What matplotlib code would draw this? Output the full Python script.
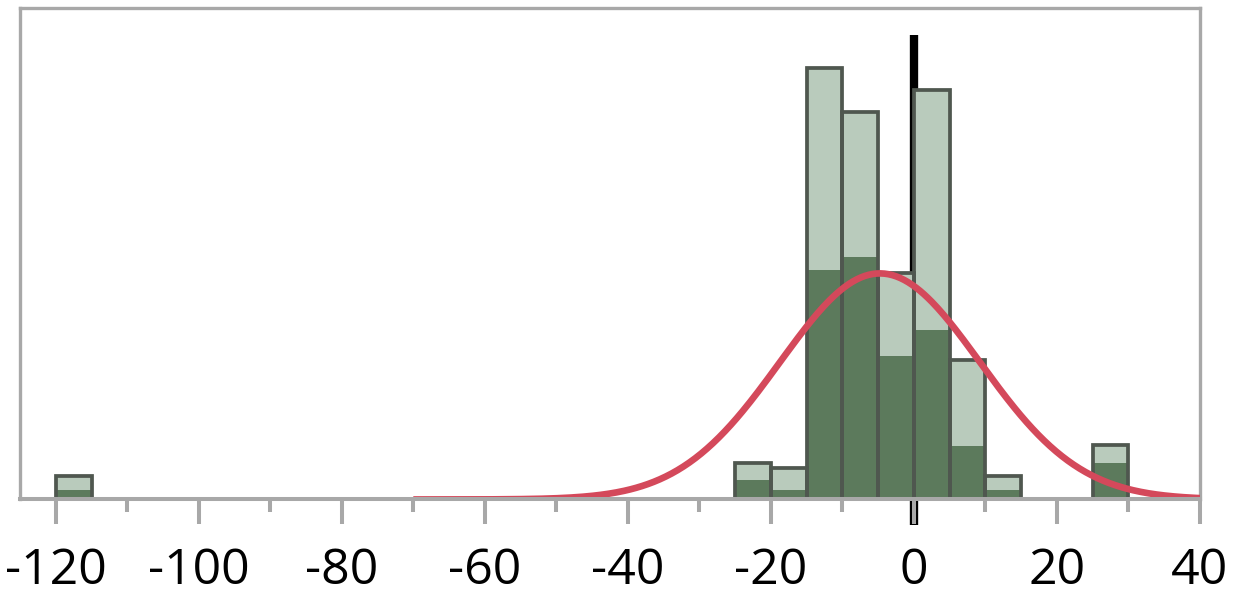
import numpy as np
import matplotlib.pyplot as plt

# histogram bins (left edges, width 5)
bin_left = [-120, -25, -20, -15, -10, -5, 0, 5, 10, 25]
total = [4.7, 7.4, 6.5, 87.7, 78.9, 46.0, 83.4, 28.4, 4.7, 11.0]
dark = [2.0, 3.9, 2.0, 46.6, 49.3, 29.2, 34.4, 10.8, 2.0, 7.4]
bin_width = 5

# normal curve parameters
mu = -4.75
sigma = 14.0
peak = 46.0

ref_x = 0
ref_top = 94.5
xticks = [-120, -100, -80, -60, -40, -20, 0, 20, 40]

plt.rcParams['font.family'] = ['Open Sans', 'DejaVu Sans']

fig = plt.figure(figsize=(12.34, 5.89), dpi=100)
ax = fig.add_axes([0.0162, 0.1520, 0.9562, 0.8344])

gray = '#a8a8a8'

# reference line at 0 (behind bars, extends below axis)
ax.plot([ref_x, ref_x], [-5.2, ref_top], color='black', lw=6, zorder=1,
        clip_on=False, solid_capstyle='butt')

ax.bar(bin_left, total, width=bin_width, align='edge', color='#b9cbbc',
       edgecolor='none', zorder=2)
ax.bar(bin_left, dark, width=bin_width, align='edge', color='#5c7a5c',
       edgecolor='none', zorder=3)
ax.bar(bin_left, total, width=bin_width, align='edge', fill=False,
       edgecolor='#4f574f', linewidth=2.7, zorder=4)

xs = np.linspace(-70, 40, 400)
ax.plot(xs, peak * np.exp(-0.5 * ((xs - mu) / sigma) ** 2),
        color='#d4495b', lw=4.8, zorder=5, solid_capstyle='butt')

ax.set_xlim(-125, 40)
ax.set_ylim(0, 100)
ax.set_xticks(xticks)
ax.set_xticklabels([str(t) for t in xticks])
ax.set_xticks(np.arange(-110, 40, 20), minor=True)
ax.set_yticks([])
ax.tick_params(axis='x', which='major', length=18, width=2.9, color=gray,
               labelsize=36, pad=16)
ax.tick_params(axis='x', which='minor', length=9.5, width=2.9, color=gray)
for sp in ax.spines.values():
    sp.set_color(gray)
    sp.set_linewidth(2.4)
    sp.set_zorder(0)
ax.spines['bottom'].set_linewidth(2.9)
ax.spines['bottom'].set_zorder(6)

fig.savefig('out.png', dpi=100)
